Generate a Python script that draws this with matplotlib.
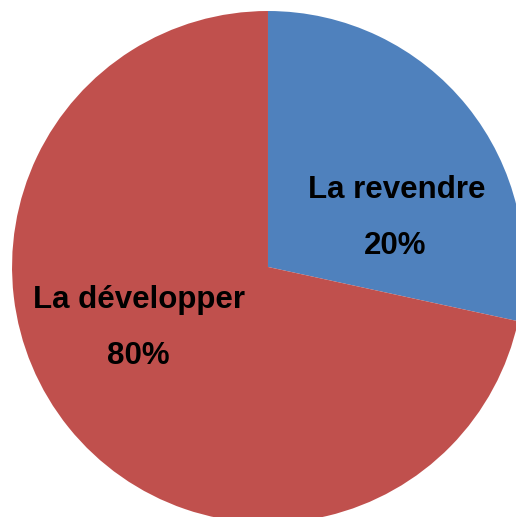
import matplotlib
matplotlib.use('Agg')
import matplotlib.pyplot as plt

labels = ['La revendre', 'La développer']
pct_labels = ['20%', '80%']
shares = [28.4, 71.6]  # slice sizes as drawn in the picture
colors = ['#4F81BD', '#C0504D']

plt.rcParams['font.family'] = ['Liberation Sans', 'DejaVu Sans']

fig = plt.figure(figsize=(5.16, 5.17), dpi=100)
ax = fig.add_axes([0, 0, 1, 1])
ax.pie(shares, colors=colors, startangle=90, counterclock=False, radius=1,
       wedgeprops=dict(linewidth=0))
ax.set_xlim(-1.047, 0.969)
ax.set_ylim(-0.977, 1.043)
ax.set_aspect('equal')
ax.axis('off')

# label positions
name_pos = [(0.504, 0.301), (-0.504, -0.129)]
pct_pos = [(0.496, 0.082), (-0.508, -0.348)]
for i in range(len(labels)):
    ax.text(*name_pos[i], labels[i], ha='center', va='center',
            fontsize=22.5, fontweight='bold', color='black')
    ax.text(*pct_pos[i], pct_labels[i], ha='center', va='center',
            fontsize=22.5, fontweight='bold', color='black')

plt.savefig('out.png', dpi=100)
